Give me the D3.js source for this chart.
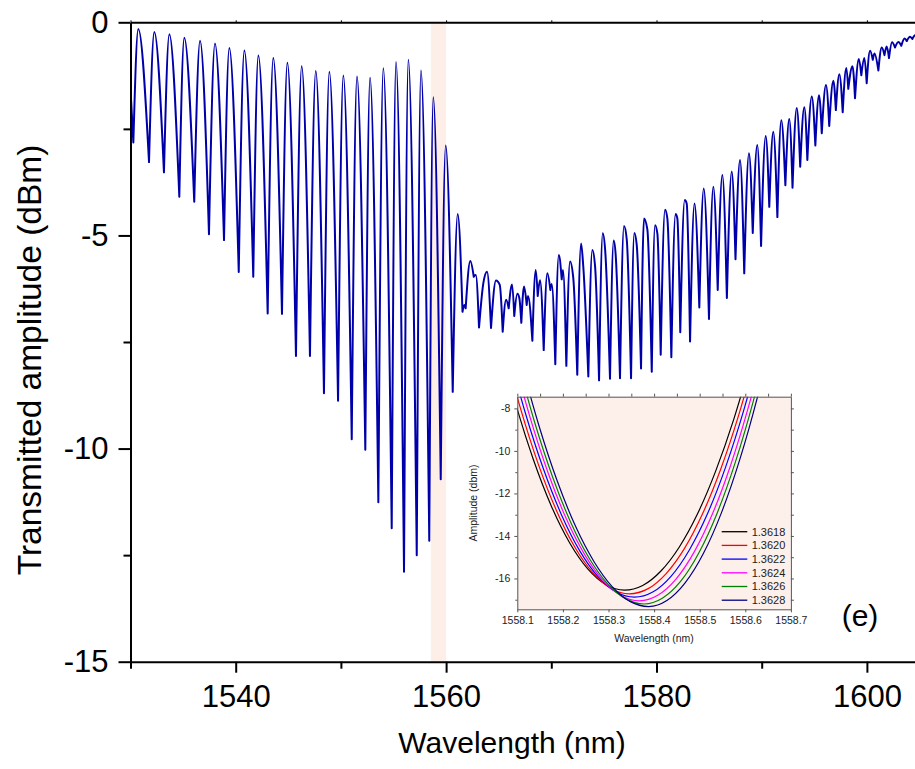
<!DOCTYPE html>
<html><head><meta charset="utf-8">
<script src="https://cdn.jsdelivr.net/npm/d3@7"></script>
<style>
body{margin:0;background:#fff}
svg{display:block}
text{font-family:"Liberation Sans",Arial,sans-serif}
</style></head>
<body><svg id="c" width="915" height="769"></svg>
<script>
// ---------- main spectrum (peaks, valleys and shoulders) ----------
const wavelength = [1530.02,1530.27,1530.74,1531.76,1532.26,1533.18,1533.69,1534.64,1535.11,1536.06,1536.61,1537.46,1538.03,1538.89,1539.39,1540.29,1540.82,1541.67,1542.15,1543.04,1543.57,1544.40,1544.91,1545.73,1546.27,1547.06,1547.61,1548.39,1548.90,1549.73,1550.23,1551.03,1551.53,1552.32,1552.77,1553.56,1554.03,1554.83,1555.24,1556.00,1556.41,1557.21,1557.61,1558.40,1558.78,1559.49,1559.96,1560.63,1561.10,
1561.56,1561.73,1561.86,1562.30,1562.63,1562.82,1563.13,1563.54,1563.89,1564.27,1564.74,1565.10,1565.38,1565.70,1565.95,1566.27,1566.48,1566.77,1566.96,1567.15,1567.41,1567.66,1567.79,1568.20,1568.52,1568.71,1568.93,1569.28,1569.62,1569.91,1570.04,1570.38,1570.71,1570.99,1571.11,1571.43,1571.78,1572.09,
1572.47,1572.83,1573.04,1573.52,1573.90,1574.16,1574.54,1574.89,1575.13,1575.58,1575.93,1576.12,1576.53,1576.91,1577.17,1577.58,1577.89,1578.12,1578.53,1578.81,1579.13,1579.55,1579.86,1580.08,1580.40,1580.81,1581.03,1581.41,1581.81,1581.98,1582.26,1582.68,1582.87,1583.19,1583.61,1584.07,1584.49,1584.99,1585.40,1585.82,1586.26,1586.69,1587.15,1587.51,1587.94,1588.34,1588.79,1589.15,1589.58,1589.94,1590.38,1590.72,1591.10,1591.49,1591.86,1592.25,1592.62,1592.93,1593.33,1593.66,1594.05,1594.34,1594.76,1595.10,1595.45,1595.71,1596.11,1596.42,1596.81,1597.05,1597.38,1597.70,1598.04,1598.23,1598.63,1598.87,1599.23,1599.47,1599.76,1599.98,1600.30,1600.56,1600.72,1601.09,1601.41,1601.67,1601.88,1602.10,1602.39,1602.67,1602.99,1603.27,1603.58,1603.79,1604.10,1604.32,1604.58,1605.05];
const amplitude = [-1.66,-2.82,-0.16,-3.28,-0.23,-3.52,-0.28,-4.09,-0.36,-4.21,-0.43,-4.97,-0.50,-5.11,-0.60,-5.86,-0.66,-5.97,-0.78,-6.83,-0.84,-6.84,-0.95,-7.83,-1.03,-7.83,-1.14,-8.70,-1.16,-8.88,-1.25,-9.78,-1.27,-10.03,-1.30,-11.26,-1.08,-11.87,-0.93,-12.89,-0.88,-12.50,-1.13,-12.16,-1.76,-10.72,-2.89,-8.67,-4.50,
-6.79,-6.63,-6.71,-5.60,-5.97,-5.93,-7.16,-6.12,-5.85,-7.17,-6.06,-6.16,-7.26,-6.51,-6.71,-6.15,-6.89,-6.37,-6.47,-7.05,-6.20,-6.63,-6.42,-7.47,-5.81,-6.42,-6.05,-7.69,-5.89,-6.28,-6.14,-8.02,-5.46,-6.03,-5.81,-8.06,-5.61,-6.00,
-8.27,-5.19,-5.73,-8.31,-5.34,-5.72,-8.40,-4.95,-5.38,-8.36,-5.12,-5.46,-8.35,-4.78,-5.09,-8.35,-4.94,-5.22,-8.12,-4.60,-4.86,-8.20,-4.76,-4.95,-7.80,-4.40,-4.60,-7.86,-4.50,-4.60,-7.27,-4.17,-4.25,-7.49,-4.25,-6.69,-3.90,-6.96,-3.86,-6.28,-3.58,-6.47,-3.50,-5.56,-3.23,-5.89,-3.07,-4.94,-2.88,-5.25,-2.67,-4.33,-2.57,-4.57,-2.30,-3.82,-2.27,-3.88,-2.01,-3.39,-1.99,-3.23,-1.74,-2.89,-1.71,-2.60,-1.47,-2.43,-1.37,-2.06,-1.22,-2.11,-1.07,-1.56,-1.03,-1.78,-0.86,-1.24,-0.84,-1.43,-0.67,-0.88,-0.73,-1.13,-0.59,-0.77,-0.57,-0.84,-0.47,-0.59,-0.46,-0.55,-0.38,-0.44,-0.34,-0.39,-0.30,-0.28];
const highlightBand = [1558.55, 1560.0];
const xMajorTicks = [1540, 1560, 1580, 1600];
const xMinorTicks = [1530, 1550, 1570, 1590];
const yMajorTicks = [0, -5, -10, -15];
const yMinorTicks = [-2.5, -7.5, -12.5];

// ---------- inset: six refractive-index curves ----------
const insetLabels = ["1.3618","1.3620","1.3622","1.3624","1.3626","1.3628"];
const insetWl = [
 [1558.065,1558.095,1558.135,1558.175,1558.215,1558.255,1558.295,1558.335,1558.375,1558.415,1558.455,1558.495,1558.535,1558.575,1558.605],
 [1558.076,1558.106,1558.146,1558.186,1558.226,1558.266,1558.306,1558.346,1558.386,1558.426,1558.466,1558.506,1558.546,1558.586,1558.616],
 [1558.087,1558.117,1558.157,1558.197,1558.237,1558.277,1558.317,1558.357,1558.397,1558.437,1558.477,1558.517,1558.557,1558.597,1558.627],
 [1558.098,1558.128,1558.168,1558.208,1558.248,1558.288,1558.328,1558.368,1558.408,1558.448,1558.488,1558.528,1558.568,1558.608,1558.638],
 [1558.108,1558.138,1558.178,1558.218,1558.258,1558.298,1558.338,1558.378,1558.418,1558.458,1558.498,1558.538,1558.578,1558.618,1558.648],
 [1558.118,1558.148,1558.188,1558.228,1558.268,1558.308,1558.348,1558.388,1558.428,1558.468,1558.508,1558.548,1558.588,1558.628,1558.658]
];
const insetAmp = [
 [-5.32,-7.68,-10.39,-12.61,-14.33,-15.56,-16.30,-16.55,-16.33,-15.65,-14.53,-12.97,-10.95,-8.49,-6.34],
 [-5.60,-7.93,-10.62,-12.81,-14.52,-15.74,-16.48,-16.72,-16.49,-15.78,-14.61,-12.97,-10.86,-8.28,-6.03],
 [-5.86,-8.17,-10.83,-13.01,-14.70,-15.91,-16.64,-16.88,-16.64,-15.90,-14.67,-12.96,-10.75,-8.06,-5.71],
 [-6.13,-8.42,-11.06,-13.22,-14.89,-16.09,-16.81,-17.05,-16.79,-16.03,-14.75,-12.96,-10.66,-7.85,-5.40],
 [-6.38,-8.65,-11.26,-13.40,-15.06,-16.25,-16.96,-17.20,-16.93,-16.14,-14.80,-12.94,-10.54,-7.62,-5.07],
 [-6.60,-8.85,-11.44,-13.56,-15.20,-16.38,-17.09,-17.32,-17.04,-16.21,-14.83,-12.89,-10.40,-7.36,-4.71]
];
const insetColors = ["#000000","#ff0000","#0000ff","#ff00ff","#008000","#000080"];
const insetXTicks = [1558.1,1558.2,1558.3,1558.4,1558.5,1558.6,1558.7];
const insetYTicks = [-16,-14,-12,-10,-8];

// ---------- drawing ----------
const svg = d3.select("#c");
const x = d3.scaleLinear().domain([1530, 1605]).range([130.5, 919.5]);
const y = d3.scaleLinear().domain([-15, 0]).range([661.7, 22.3]);

svg.append("rect").attr("x", x(highlightBand[0])).attr("y", y(0))
  .attr("width", x(highlightBand[1]) - x(highlightBand[0])).attr("height", y(-15) - y(0))
  .attr("fill", "#fdeee8");

// spectrum: split at local minima so dips stay sharp, peaks rounded
const pts = wavelength.map((w, i) => [w, amplitude[i]]);
const mins = [];
for (let i = 1; i < pts.length - 1; i++) if (pts[i][1] < pts[i-1][1] && pts[i][1] < pts[i+1][1]) mins.push(i);
const cuts = [0, ...mins, pts.length - 1];
const ctx = d3.path();
const seg = d3.line().x(d => x(d[0])).y(d => y(d[1])).curve(d3.curveMonotoneX).context(ctx);
for (let k = 0; k < cuts.length - 1; k++) seg(pts.slice(cuts[k], cuts[k+1] + 1));
svg.append("defs").append("clipPath").attr("id", "pc").append("rect")
  .attr("x", 130.5).attr("y", 0).attr("width", 800).attr("height", 661.7);
svg.append("path").attr("d", ctx.toString()).attr("clip-path", "url(#pc)")
  .attr("fill", "none").attr("stroke", "#0000aa").attr("stroke-width", 2)
  .attr("stroke-linejoin", "round").attr("stroke-linecap", "round");

// axes
function styleAxis(g, fs) {
  g.select(".domain").attr("stroke", "#000").attr("stroke-width", 2);
  g.selectAll(".tick line").attr("stroke", "#000").attr("stroke-width", 2);
  g.selectAll(".tick text").attr("fill", "#000").style("font-size", fs + "px")
    .style("font-family", '"Liberation Sans",Arial,sans-serif');
}
const gx = svg.append("g").attr("transform", `translate(0,${y(-15)})`)
  .call(d3.axisBottom(x).tickValues(xMajorTicks).tickSize(11).tickSizeOuter(0).tickPadding(12).tickFormat(d => String(d)));
styleAxis(gx, 31);
const gxm = svg.append("g").attr("transform", `translate(0,${y(-15)})`)
  .call(d3.axisBottom(x).tickValues(xMinorTicks).tickSize(7).tickSizeOuter(0).tickFormat(""));
styleAxis(gxm, 31); gxm.select(".domain").remove();
const gy = svg.append("g").attr("transform", `translate(${x(1530)},0)`)
  .call(d3.axisLeft(y).tickValues(yMajorTicks).tickSize(12).tickSizeOuter(0).tickPadding(10).tickFormat(d => String(d)));
styleAxis(gy, 31);
const gym = svg.append("g").attr("transform", `translate(${x(1530)},0)`)
  .call(d3.axisLeft(y).tickValues(yMinorTicks).tickSize(7).tickSizeOuter(0).tickFormat(""));
styleAxis(gym, 31); gym.select(".domain").remove();
const gt = svg.append("g").attr("transform", `translate(0,${y(0)})`)
  .call(d3.axisTop(x).tickValues([...xMajorTicks, ...xMinorTicks]).tickSize(2).tickSizeOuter(0).tickFormat(""));
styleAxis(gt, 31);
gt.selectAll(".tick line").attr("stroke-width", 1);

svg.append("text").attr("x", 512).attr("y", 753).attr("text-anchor", "middle")
  .style("font-size", "30px").text("Wavelength (nm)");
svg.append("text").attr("transform", "translate(41,360) rotate(-90)").attr("text-anchor", "middle")
  .style("font-size", "33.5px").text("Transmitted amplitude (dBm)");
svg.append("text").attr("x", 860).attr("y", 626).attr("text-anchor", "middle")
  .style("font-size", "30px").text("(e)");

// ---------- inset ----------
const xi = d3.scaleLinear().domain([1558.1, 1558.7]).range([517.3, 790.9]);
const yi = d3.scaleLinear().domain([-17.45, -7.45]).range([609.3, 396.7]);
const ins = svg.append("g");
ins.append("rect").attr("x", xi(1558.1)).attr("y", yi(-7.45))
  .attr("width", xi(1558.7) - xi(1558.1)).attr("height", yi(-17.45) - yi(-7.45)).attr("fill", "#fdf0eb");
svg.select("defs").append("clipPath").attr("id", "ic").append("rect")
  .attr("x", xi(1558.1)).attr("y", yi(-7.45))
  .attr("width", xi(1558.7) - xi(1558.1)).attr("height", yi(-17.45) - yi(-7.45));
const il = d3.line().x(d => xi(d[0])).y(d => yi(d[1])).curve(d3.curveMonotoneX);
insetWl.forEach((ws, k) => {
  ins.append("path").attr("d", il(ws.map((w, i) => [w, insetAmp[k][i]])))
    .attr("clip-path", "url(#ic)").attr("fill", "none")
    .attr("stroke", insetColors[k]).attr("stroke-width", 1.2);
});
function styleInset(g) {
  g.select(".domain").attr("stroke", "#555").attr("stroke-width", 1);
  g.selectAll(".tick line").attr("stroke", "#555").attr("stroke-width", 1);
  g.selectAll(".tick text").attr("fill", "#222").style("font-size", "10.5px")
    .style("font-family", '"Liberation Sans",Arial,sans-serif');
}
const ixb = ins.append("g").attr("transform", `translate(0,${yi(-17.45)})`)
  .call(d3.axisBottom(xi).tickValues(insetXTicks).tickSize(3).tickSizeOuter(0).tickPadding(4).tickFormat(d3.format(".1f")));
styleInset(ixb);
const ixt = ins.append("g").attr("transform", `translate(0,${yi(-7.45)})`)
  .call(d3.axisTop(xi).ticks(12).tickSize(3).tickSizeOuter(0).tickFormat(""));
styleInset(ixt);
const iyl = ins.append("g").attr("transform", `translate(${xi(1558.1)},0)`)
  .call(d3.axisLeft(yi).tickValues(insetYTicks).tickSize(3).tickSizeOuter(0).tickPadding(4).tickFormat(d => String(d)));
styleInset(iyl);
const iylm = ins.append("g").attr("transform", `translate(${xi(1558.1)},0)`)
  .call(d3.axisLeft(yi).tickValues([-17,-15,-13,-11,-9]).tickSize(2).tickSizeOuter(0).tickFormat(""));
styleInset(iylm); iylm.select(".domain").remove();
const iyr = ins.append("g").attr("transform", `translate(${xi(1558.7)},0)`)
  .call(d3.axisRight(yi).tickValues([-17,-16,-15,-14,-13,-12,-11,-10,-9,-8]).tickSize(3).tickSizeOuter(0).tickFormat(""));
styleInset(iyr);
ins.append("text").attr("x", 654).attr("y", 642).attr("text-anchor", "middle")
  .attr("fill", "#222").style("font-size", "10.5px").text("Wavelength (nm)");
ins.append("text").attr("transform", "translate(477,503) rotate(-90)").attr("text-anchor", "middle")
  .attr("fill", "#222").style("font-size", "10.5px").text("Amplitude (dbm)");
const leg = ins.append("g");
insetLabels.forEach((lab, k) => {
  const yy = 531.7 + k * 13.7;
  leg.append("line").attr("x1", 721.7).attr("x2", 747.3).attr("y1", yy).attr("y2", yy)
    .attr("stroke", insetColors[k]).attr("stroke-width", 1.3);
  leg.append("text").attr("x", 751.7).attr("y", yy).attr("dy", "0.35em")
    .attr("fill", "#222").style("font-size", "11px").text(lab);
});
</script></body></html>
